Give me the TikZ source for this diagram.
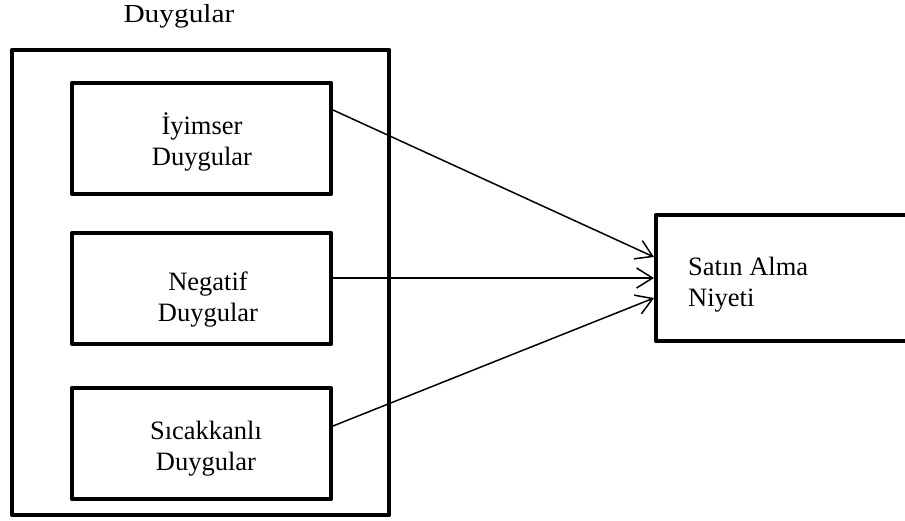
\documentclass[tikz,border=0pt]{standalone}
\usepackage{fontspec}
\setmainfont{Liberation Serif}
\usetikzlibrary{arrows.meta}
\begin{document}
\begin{tikzpicture}[x=1pt,y=-1pt,
  box/.style={draw,line width=4.3pt,line join=round,inner sep=0pt,outer sep=2pt},
  lbl/.style={font=\fontsize{26.5}{31}\selectfont,align=center,inner sep=0pt},
  conn/.style={line width=1.5pt,-{Straight Barb[length=16pt,width=20pt,line width=1.5pt]}}]
\clip (0,0) rectangle (905,521);
\node[box,minimum width=377pt,minimum height=465pt] (outer) at (200.5,282.5) {};
\node[lbl,anchor=base,font=\fontsize{26}{30}\selectfont] (title) at (179,23) {\scalebox{1.13}[1]{Duygular}};
\node[box,minimum width=259pt,minimum height=111pt] (b1) at (201.5,138.5) {};
\node[box,minimum width=259pt,minimum height=111pt] (b2) at (201.5,288.5) {};
\node[box,minimum width=259pt,minimum height=111pt] (b3) at (201.5,443.5) {};
\node[box,anchor=west,minimum width=262pt,minimum height=126pt] (r) at (654,278) {};
\node[lbl,anchor=base] (t1) at (202,166) {İyimser\\Duygular};
\node[lbl,anchor=base] (t2) at (208,322) {Negatif\\Duygular};
\node[lbl,anchor=base] (t3) at (206,470) {Sıcakkanlı\\Duygular};
\node[lbl,align=left,anchor=base west] (tr) at (688,307) {Satın Alma\\Niyeti};
\draw[conn] ([yshift=28.5pt]b1.east) -- ([yshift=21pt]r.west);
\draw[conn] ([yshift=10.5pt]b2.east) -- (r.west);
\draw[conn] ([yshift=17.5pt]b3.east) -- ([yshift=-20pt]r.west);
\end{tikzpicture}
\end{document}
